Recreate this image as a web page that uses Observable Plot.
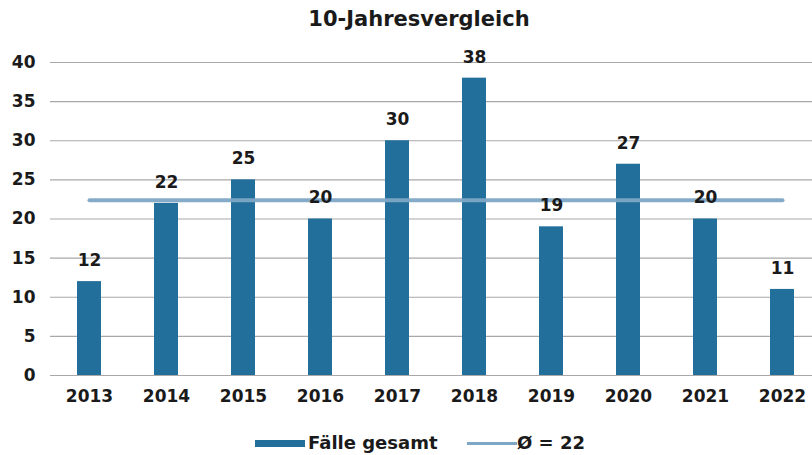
<!DOCTYPE html>
<html>
<head>
<meta charset="utf-8">
<script src="https://cdn.jsdelivr.net/npm/d3@7"></script>
<script src="https://cdn.jsdelivr.net/npm/@observablehq/plot@0.6"></script>
<style>
  body { margin: 0; background: #fff; font-family: "DejaVu Sans", sans-serif; }
  #title { height: 36px; line-height: 38px; font-weight: bold; font-size: 21px; color: #1a1a1a; text-align: center; width: 812px; padding-left: 26px; box-sizing: border-box; }
  #legend { position: relative; width: 812px; height: 39px; font-weight: bold; font-size: 18px; color: #1a1a1a; }
  .sw-bar { position: absolute; left: 255px; top: 24px; width: 50px; height: 7px; background: #236f9c; }
  .t1 { position: absolute; left: 308px; top: 16px; }
  .sw-line { position: absolute; left: 467px; top: 26px; width: 50px; height: 3px; background: #7ea7c6; }
  .t2 { position: absolute; left: 517px; top: 16px; }
</style>
</head>
<body>
<div id="title">10-Jahresvergleich</div>
<div id="chart"></div>
<div id="legend"><span class="sw-bar"></span><span class="t1">Fälle gesamt</span><span class="sw-line"></span><span class="t2">Ø = 22</span></div>
<script>
const years = ["2013","2014","2015","2016","2017","2018","2019","2020","2021","2022"];
const cases = [12, 22, 25, 20, 30, 38, 19, 27, 20, 11];
const average = 22.4;
const yTicks = [0, 5, 10, 15, 20, 25, 30, 35, 40];

const data = years.map((y, i) => ({year: y, value: cases[i]}));
const avgLine = [{year: years[0], value: average}, {year: years[years.length - 1], value: average}];

const chart = Plot.plot({
  width: 812,
  height: 380,
  marginTop: 26,
  marginBottom: 41,
  marginLeft: 50,
  marginRight: 0,
  style: {fontFamily: "'DejaVu Sans', sans-serif", fontWeight: "bold", fontSize: "16px", color: "#1a1a1a", background: "#fff", display: "block"},
  x: {domain: years, range: [50, 820], paddingInner: 0.69, paddingOuter: 0.345, label: null},
  y: {domain: [0, 40], label: null},
  marks: [
    Plot.ruleY(yTicks, {stroke: "#a8a8a8", strokeWidth: 1.2}),
    Plot.barY(data, {x: "year", y: "value", fill: "#236f9c"}),
    Plot.line(avgLine, {x: "year", y: "value", stroke: "#7ea7c6", strokeWidth: 4, strokeOpacity: 0.95}),
    Plot.text(data, {x: "year", y: "value", text: d => String(d.value), dy: -21, fontSize: 17, fontWeight: "bold", fill: "#1a1a1a"}),
    Plot.axisX({tickSize: 0, tickPadding: 14, fontSize: 17, fontWeight: "bold"}),
    Plot.axisY({ticks: yTicks, tickSize: 0, tickPadding: 15, fontSize: 17, fontWeight: "bold"})
  ]
});
document.getElementById("chart").appendChild(chart);
</script>
</body>
</html>
